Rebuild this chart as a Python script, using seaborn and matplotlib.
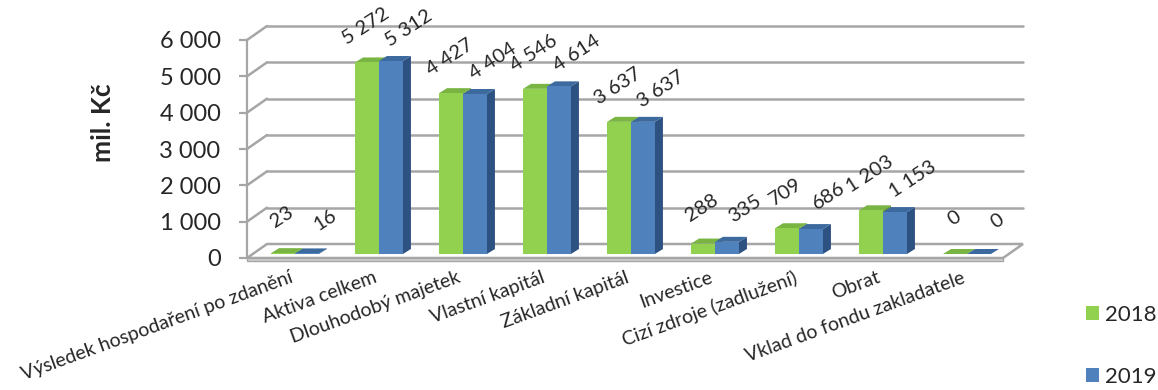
"""Ukazatele 2018 vs 2019 (mil. Kč) -- Excel-style 3D clustered columns."""

import matplotlib.pyplot as plt
import pandas as pd
import seaborn as sns
from matplotlib.lines import Line2D
from matplotlib.patches import Polygon
from matplotlib.ticker import FuncFormatter
from matplotlib.transforms import IdentityTransform, ScaledTranslation

CATEGORIES = [
    "Výsledek hospodaření po zdanění",
    "Aktiva celkem",
    "Dlouhodobý majetek",
    "Vlastní kapitál",
    "Základní kapitál",
    "Investice",
    "Cizí zdroje (zadlužení)",
    "Obrat",
    "Vklad do fondu zakladatele",
]
YEARS = ["2018", "2019"]
VALUES_2018 = [23, 5272, 4427, 4546, 3637, 288, 709, 1203, 0]
VALUES_2019 = [16, 5312, 4404, 4614, 3637, 335, 686, 1153, 0]
Y_TICKS = [0, 1000, 2000, 3000, 4000, 5000, 6000]

FRONT = {"2018": "#92D050", "2019": "#4F81BD"}
TOP = {"2018": "#7AB544", "2019": "#3D6A9E"}
SIDE = {"2018": "#6A9A36", "2019": "#2D5282"}
GRID = "#A6A6A6"

WALL_DX, WALL_DY = 20, 14   # depth of the back wall, pixels
BAR_SHIFT = (6, 4)          # bars sit a bit behind the front plane
BAR_DX, BAR_DY = 8, 5       # depth of a single bar
LABEL_OFFSET = {"2018": (5, 40), "2019": (24, 37)}  # Excel drifts the value labels apart


def fmt(v):
    return f"{int(round(v)):,}".replace(",", " ")


def main():
    sns.set_theme(style="white")
    plt.rcParams["font.family"] = ["Lato", "DejaVu Sans"]

    df = pd.DataFrame(
        {
            "kategorie": CATEGORIES * 2,
            "rok": [YEARS[0]] * len(CATEGORIES) + [YEARS[1]] * len(CATEGORIES),
            "hodnota": VALUES_2018 + VALUES_2019,
        }
    )

    fig = plt.figure(figsize=(11.58, 3.9), dpi=100)
    ax = fig.add_axes([247 / 1158, 132 / 390, 756 / 1158, 218 / 390])
    sns.barplot(
        data=df, x="kategorie", y="hodnota", hue="rok", palette=FRONT,
        saturation=1, width=0.57, linewidth=0, ax=ax,
    )
    ax.set_xlim(-0.5, len(CATEGORIES) - 0.5)
    ax.set_ylim(0, 6000)
    ax.set_yticks(Y_TICKS)
    ax.yaxis.set_major_formatter(FuncFormatter(lambda v, _: fmt(v)))
    for side in ["top", "right", "bottom"]:
        ax.spines[side].set_visible(False)
    ax.spines["left"].set_color(GRID)
    ax.spines["left"].set_linewidth(1.6)
    ax.tick_params(axis="y", length=6, width=1.6, color=GRID, pad=13, labelsize=17, left=True)
    ax.tick_params(axis="x", length=0, pad=8)
    ax.set_xticks(range(len(CATEGORIES)))
    ax.set_xticklabels(CATEGORIES, rotation=20, ha="right", va="top", rotation_mode="anchor", fontsize=14)
    ax.set_xlabel("")
    ax.set_ylabel("mil. Kč", fontsize=19, fontweight="bold")
    ax.yaxis.set_label_coords(-0.175, 0.62)
    ax.patch.set_alpha(0)

    def px(x, y):
        return ax.transData.transform((x, y))

    def add_line(p, q, z=0.5):
        ax.add_line(Line2D([p[0], q[0]], [p[1], q[1]], transform=IdentityTransform(),
                           color=GRID, lw=1.8, clip_on=False, zorder=z))

    def add_poly(pts, color, z, edge="none", lw=0):
        ax.add_patch(Polygon(pts, closed=True, transform=IdentityTransform(), facecolor=color,
                             edgecolor=edge, lw=lw, clip_on=False, zorder=z))

    x_lo, x_hi = ax.get_xlim()
    # back wall grid + the diagonals to the front axis
    for t in Y_TICKS[1:]:
        f = px(x_lo, t)
        b = (f[0] + WALL_DX, f[1] + WALL_DY)
        e = px(x_hi, t)
        add_line(f, b)
        add_line(b, (e[0] + WALL_DX, e[1] + WALL_DY))

    # floor slab
    fl, fr = px(x_lo, 0), px(x_hi, 0)
    floor = [fl, fr, (fr[0] + WALL_DX, fr[1] + WALL_DY), (fl[0] + WALL_DX, fl[1] + WALL_DY)]
    add_poly(floor, "white", 0.6, edge=GRID, lw=1.8)
    add_poly([fl, fr, (fr[0], fr[1] - 3), (fl[0], fl[1] - 3)], "#D0D0D0", 0.6, edge=GRID, lw=1.0)

    # 3D bars: shift the fronts back, add sides and tops
    shift = ScaledTranslation(BAR_SHIFT[0] / 100, BAR_SHIFT[1] / 100, fig.dpi_scale_trans)
    for k, (year, container) in enumerate(zip(YEARS, ax.containers)):
        for rect in container:
            x0, w, h = rect.get_x(), rect.get_width(), rect.get_height()
            X0, Y0 = px(x0, 0) + BAR_SHIFT
            X1, Y1 = px(x0 + w, h) + BAR_SHIFT
            add_poly([(X1, Y0), (X1 + BAR_DX, Y0 + BAR_DY), (X1 + BAR_DX, Y1 + BAR_DY), (X1, Y1)],
                     SIDE[year], 2 + k)
            add_poly([(X0, Y1), (X0 + BAR_DX, Y1 + BAR_DY), (X1 + BAR_DX, Y1 + BAR_DY), (X1, Y1)],
                     TOP[year], 2.1 + k)
            rect.set_transform(ax.transData + shift)
            rect.set_zorder(2.2 + k)
            rect.set_clip_on(False)
            ax.annotate(fmt(h), xy=(x0 + w / 2, h), xytext=LABEL_OFFSET[year], textcoords="offset pixels",
                        rotation=33, ha="center", va="center", fontsize=14.5, zorder=5)

    sns.move_legend(
        ax, "center left", bbox_to_anchor=(1066 / 1158, 0.113), bbox_transform=fig.transFigure,
        frameon=False, title=None, fontsize=16, handlelength=0.6, handleheight=0.6,
        labelspacing=1.9, handletextpad=0.25,
    )

    fig.savefig("out.png", dpi=100)
    plt.close(fig)


if __name__ == "__main__":
    main()
